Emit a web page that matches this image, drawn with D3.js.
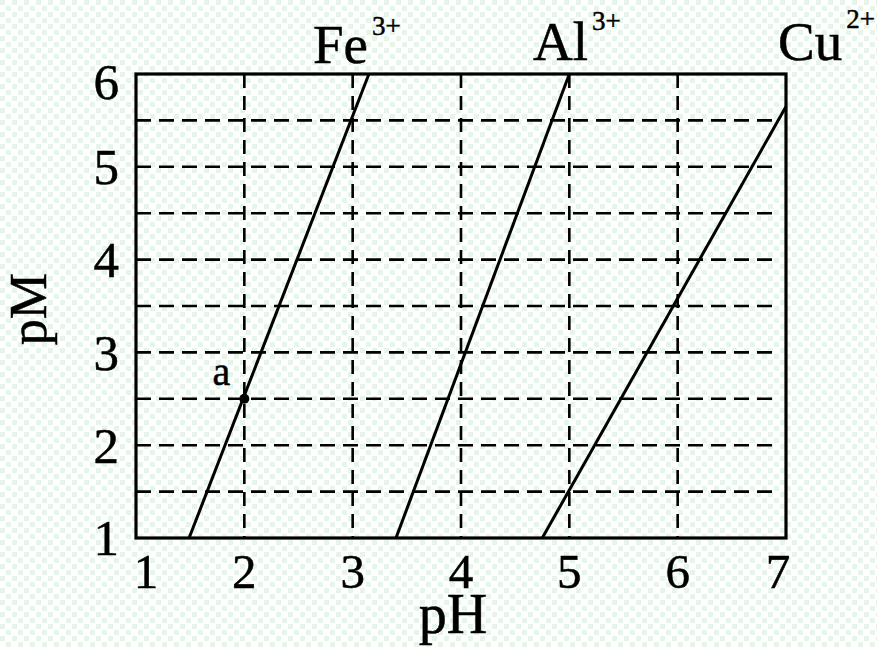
<!DOCTYPE html>
<html>
<head>
<meta charset="utf-8">
<script src="https://cdn.jsdelivr.net/npm/d3@7"></script>
<style>
  html, body { margin: 0; padding: 0; background: #fff; }
  svg { display: block; }
  text { font-family: "Liberation Serif", "Times New Roman", serif; fill: #000; stroke: #000; stroke-width: 0.5; }
</style>
</head>
<body>
<svg id="chart" width="877" height="647"></svg>
<script>
// Axis ticks
const pHTicks = [1, 2, 3, 4, 5, 6, 7];
const pMTicks = [1, 2, 3, 4, 5, 6];
// Dashed reference grid
const gridPH = [2, 3, 4, 5, 6];
const gridPM = [1.5, 2, 2.5, 3, 3.5, 4, 4.5, 5, 5.5];
// Precipitation lines: [pH, pM] end points
const ionNames = ["Fe", "Al", "Cu"];
const ionCharges = ["3+", "3+", "2+"];
const fePoints = [[1.49, 1], [3.15, 6]];
const alPoints = [[3.4, 1], [5.0, 6]];
const cuPoints = [[4.75, 1], [7.0, 5.65]];
// Marked point a
const pointA = [2, 2.5];
const pointALabel = "a";

const svg = d3.select("#chart");
const W = 877, H = 647;

// faint mint dither background
const defs = svg.append("defs");
const pat = defs.append("pattern").attr("id", "dither")
  .attr("width", 12).attr("height", 12).attr("patternUnits", "userSpaceOnUse");
pat.append("rect").attr("width", 12).attr("height", 12).attr("fill", "#ffffff");
pat.append("rect").attr("x", 0).attr("y", 0).attr("width", 5).attr("height", 5).attr("fill", "#e6f4ea");
pat.append("rect").attr("x", 6).attr("y", 6).attr("width", 5).attr("height", 5).attr("fill", "#e6f4ea");
svg.append("rect").attr("width", W).attr("height", H).attr("fill", "url(#dither)");

const x = d3.scaleLinear().domain([1, 7]).range([136, 786]);
const y = d3.scaleLinear().domain([1, 6]).range([538, 74]);

const g = svg.append("g");

// dashed grid
g.selectAll("line.gv").data(gridPH).join("line")
  .attr("x1", d => x(d)).attr("x2", d => x(d))
  .attr("y1", y(6)).attr("y2", y(1))
  .attr("stroke", "#000").attr("stroke-width", 2.6)
  .attr("stroke-dasharray", "14 8");
g.selectAll("line.gh").data(gridPM).join("line")
  .attr("x1", x(1)).attr("x2", x(7) - 6)
  .attr("y1", d => y(d)).attr("y2", d => y(d))
  .attr("stroke", "#000").attr("stroke-width", 2.6)
  .attr("stroke-dasharray", "15 8");

// frame
g.append("rect")
  .attr("x", x(1)).attr("y", y(6))
  .attr("width", x(7) - x(1)).attr("height", y(1) - y(6))
  .attr("fill", "none").attr("stroke", "#000").attr("stroke-width", 3.2);

// ion lines
const line = d3.line().x(d => x(d[0])).y(d => y(d[1]));
[fePoints, alPoints, cuPoints].forEach(pts => {
  g.append("path").attr("d", line(pts))
    .attr("fill", "none").attr("stroke", "#000").attr("stroke-width", 3);
});

// point a
g.append("circle").attr("cx", x(pointA[0])).attr("cy", y(pointA[1]))
  .attr("r", 5).attr("fill", "#000");
g.append("text").attr("x", x(pointA[0]) - 14).attr("y", y(pointA[1]) - 14)
  .attr("text-anchor", "end").attr("font-size", 40).text(pointALabel);

// x tick labels
const xNudge = { 1: 10, 7: -8 };
g.selectAll("text.xt").data(pHTicks).join("text")
  .attr("x", d => x(d) + (xNudge[d] || 0)).attr("y", 588)
  .attr("text-anchor", "middle").attr("font-size", 49)
  .text(d => d);

// y tick labels
const yNudge = { 6: 8 };
g.selectAll("text.yt").data(pMTicks).join("text")
  .attr("x", 119).attr("y", d => y(d) + (yNudge[d] || 0))
  .attr("dy", "0.34em")
  .attr("text-anchor", "end").attr("font-size", 51)
  .text(d => d);

// axis titles
g.append("text").attr("x", 453).attr("y", 633)
  .attr("text-anchor", "middle").attr("font-size", 56).text("pH");
g.append("text").attr("transform", "translate(46,309) rotate(-90)")
  .attr("text-anchor", "middle").attr("font-size", 52).text("pM");

// ion labels with charge superscripts
const labelPos = [[313, 63], [533, 60], [778, 60]];
const supRise = [-28, -30, -32];
ionNames.forEach((name, i) => {
  const t = g.append("text").attr("x", labelPos[i][0]).attr("y", labelPos[i][1])
    .attr("font-size", 55);
  t.append("tspan").text(name);
  t.append("tspan").attr("font-size", 27).attr("dx", 4).attr("dy", supRise[i]).text(ionCharges[i]);
});
</script>
</body>
</html>
